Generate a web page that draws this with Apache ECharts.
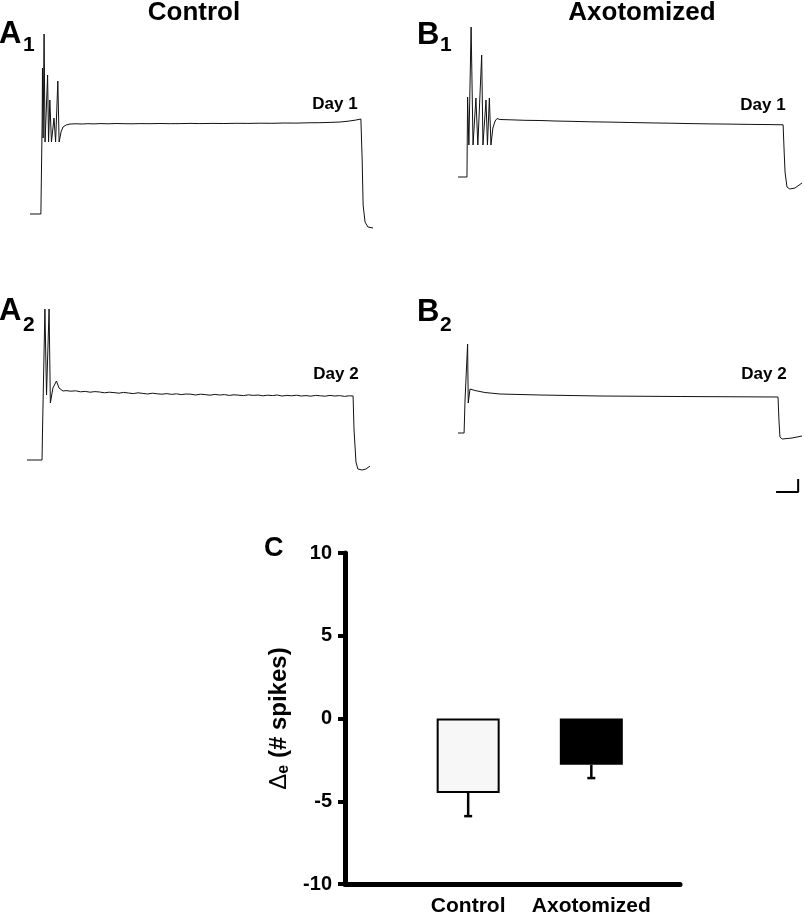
<!DOCTYPE html>
<html>
<head>
<meta charset="utf-8">
<script src="https://cdn.jsdelivr.net/npm/echarts@6/dist/echarts.min.js"></script>
<style>html,body{margin:0;padding:0;background:#fff}#c{width:805px;height:917px}</style>
</head>
<body>
<div id="c"></div>
<script>
// ---- Traces: [time (ms), membrane potential (mV)] ----
const traceA1 = [[0,-65],[34,-65],[38,-18],[39,8],[41,-27],[44,25],[47,-29],[55,4.5],[58,-29],[62,-8],[67,-29],[75,-17],[80,-29],[87,1.5],[91,-29],[97,-24],[103,-21.5],[113,-20.5],
 [125,-20.0],[144,-19.9],[163,-20.0],[181,-19.85],[200,-19.95],[219,-19.8],[244,-19.9],[269,-19.75],[294,-19.85],[319,-19.9],[344,-19.8],[375,-19.85],[406,-19.75],[438,-19.85],[469,-19.8],[500,-19.7],[531,-19.8],[569,-19.7],[606,-19.75],[644,-19.65],[681,-19.7],[719,-19.6],[756,-19.65],[794,-19.5],[831,-19.55],[869,-19.4],[906,-19.35],[938,-19.2],[969,-19.0],[994,-18.6],[1016,-18.1],[1034,-17.5],
 [1038,-38],[1041,-60.5],[1047,-69],[1056,-71.5],[1072,-72]];
const traceB1 = [[0,-65],[28,-65],[30,-25],[34,-49],[41,10],[47,-49],[56,-25.5],[62,-49],[74,-4],[78,-49],[87.5,-26.5],[92,-49],[98,-25.5],[103,-49],[109,-40.5],[116,-37],[122,-35.75],
 [131,-36.25],[163,-36.4],[209,-36.65],[256,-36.75],[303,-37.0],[350,-37.15],[413,-37.4],[475,-37.55],[538,-37.75],[600,-37.95],[663,-38.1],[725,-38.3],[788,-38.45],[850,-38.55],[913,-38.7],[975,-38.8],[1016,-38.9],
 [1019,-51.5],[1022,-62.5],[1028,-70],[1037,-71],[1053,-70.5],[1075,-68]];
const traceA2 = [[0,-65],[47,-65],[48.5,-50],[56,10.5],[61,-32.5],[69,10.5],[73,-36.5],[81,-29],[92,-25.5],[100,-29],[112.5,-30.5],
 [122,-30.3],[137,-30.6],[152,-30.4],[167,-30.9],[182,-30.7],[197,-31.1],[212,-30.8],[227,-31.0],[242,-31.4],[257,-31.1],[272,-31.3],[287,-31.6],[302,-31.2],[317,-31.5],[332,-31.8],[347,-31.4],[362,-31.7],[377,-32.0],[392,-31.6],[407,-31.9],[422,-32.1],[437,-31.8],[452,-32.2],[467,-31.9],[482,-32.3],[497,-32.0],[512,-32.1],[527,-32.5],[542,-32.1],[557,-32.3],[572,-32.6],[587,-32.2],[602,-32.5],[617,-32.3],[632,-32.7],[647,-32.4],[662,-32.6],[677,-32.8],[692,-32.4],[707,-32.7],[722,-32.5],[737,-32.9],[752,-32.6],[767,-32.8],[782,-32.5],[797,-33.0],[812,-32.7],[827,-32.9],[842,-32.6],[857,-33.0],[872,-32.8],[887,-33.1],[902,-32.7],[917,-32.9],[932,-33.1],[947,-32.7],[962,-33.0],[977,-32.8],[992,-33.2],[1007,-32.9],[1019,-33.0],
 [1022,-50],[1028,-66],[1034,-69.5],[1047,-70],[1059,-69.5],[1072,-68]];
const traceB2 = [[0,-65],[19,-65],[22,-48.5],[30,-20.5],[32,-50],[37.5,-43],[53,-43.75],[84,-44.75],[131,-45.5],[256,-46],[444,-46.5],[694,-46.75],[1000,-47],
 [1003,-58.5],[1006,-67],[1013,-68],[1044,-67.5],[1075,-66.5]];
const scaleBar = [[994,-94.5],[1063,-94.5],[1063,-88]];

// ---- Bar chart ----
const categories = ['Control', 'Axotomized'];
const catPos = [1, 2];
const means = [-4.5, -2.8];
const sems = [1.4, 0.8];
const barColors = ['#f7f7f7', '#000000'];
const yTicks = [-10, -5, 0, 5, 10];

const FONT = '"Liberation Sans", Arial, sans-serif';
const chart = echarts.init(document.getElementById('c'));

const traceGrids = [
  {left:30, top:24, width:345, height:280, ymin:-110, ymax:30},
  {left:458, top:17, width:345, height:280, ymin:-125, ymax:15},
  {left:27, top:300, width:345, height:280, ymin:-125, ymax:15},
  {left:458, top:273, width:345, height:280, ymin:-125, ymax:15}
];
const traces = [traceA1, traceB1, traceA2, traceB2];

const grid = traceGrids.map(g => ({left:g.left, top:g.top, width:g.width, height:g.height}));
grid.push({left:345, top:553, width:335, height:334});

const xAxis = traceGrids.map((g,i) => ({type:'value', gridIndex:i, min:0, max:g.width*3.125, show:false}));
const yAxis = traceGrids.map((g,i) => ({type:'value', gridIndex:i, min:g.ymin, max:g.ymax, show:false}));

xAxis.push({
  type:'value', gridIndex:4, min:0, max:2.72, interval:1,
  axisLine:{show:true, onZero:false, lineStyle:{color:'#000', width:5}},
  axisTick:{show:false}, splitLine:{show:false},
  axisLabel:{margin:12, color:'#000', fontFamily:FONT, fontWeight:'bold', fontSize:21,
    formatter: v => { const k = catPos.indexOf(Math.round(v)); return k >= 0 ? categories[k] : ''; }}
});
yAxis.push({
  type:'value', gridIndex:4, min:yTicks[0], max:yTicks[yTicks.length-1], interval:5,
  axisLine:{show:true, onZero:false, lineStyle:{color:'#000', width:5}},
  axisTick:{show:true, length:7, lineStyle:{color:'#000', width:4}},
  splitLine:{show:false},
  axisLabel:{margin:13, color:'#000', fontFamily:FONT, fontWeight:'bold', fontSize:20},
  name:'{d|\u0394}{e|e}{n| (# spikes)}', nameLocation:'middle', nameGap:53,
  nameTextStyle:{color:'#000', fontFamily:FONT, rich:{
    d:{fontSize:24, fontWeight:'normal', color:'#000', fontFamily:FONT},
    e:{fontSize:16, fontWeight:'bold', color:'#000', fontFamily:FONT, verticalAlign:'bottom', padding:[9,0,0,0]},
    n:{fontSize:24, fontWeight:'bold', color:'#000', fontFamily:FONT}
  }}
});

const series = traces.map((d,i) => ({
  type:'line', xAxisIndex:i, yAxisIndex:i, data:d, symbol:'none', showSymbol:false,
  lineStyle:{color:'#111', width:1}, clip:false, silent:true
}));
series.push({type:'line', xAxisIndex:3, yAxisIndex:3, data:scaleBar, symbol:'none',
  lineStyle:{color:'#000', width:2}, clip:false, silent:true});
series.push({
  type:'bar', xAxisIndex:4, yAxisIndex:4, barWidth:63,
  data: catPos.map((p,i) => ({value:[p, means[i]], itemStyle:{color:barColors[i], borderColor:'#000', borderWidth:2}}))
});
series.push({
  type:'custom', xAxisIndex:4, yAxisIndex:4, z:5,
  data: catPos.map((p,i) => [p, means[i], means[i]-sems[i]]),
  renderItem: (params, api) => {
    const top = api.coord([api.value(0), api.value(1)]);
    const bot = api.coord([api.value(0), api.value(2)]);
    const st = {stroke:'#000', lineWidth:2.5};
    return {type:'group', children:[
      {type:'line', shape:{x1:top[0], y1:top[1], x2:bot[0], y2:bot[1]}, style:st},
      {type:'line', shape:{x1:bot[0]-4, y1:bot[1], x2:bot[0]+4, y2:bot[1]}, style:st}
    ]};
  }
});

function txt(x, y, text, size, align) {
  return {type:'text', x:x, y:y, style:{text:text, fill:'#000', font:'bold ' + size + 'px ' + FONT,
    align:align || 'left', verticalAlign:'middle'}};
}
const graphic = [
  txt(194, 13, 'Control', 26, 'center'),
  txt(642, 13, 'Axotomized', 26, 'center'),
  txt(-1, 34, 'A', 31), txt(23, 45, '1', 21),
  txt(417, 35, 'B', 31), txt(440, 45, '1', 21),
  txt(-1, 311, 'A', 31), txt(23, 325, '2', 21),
  txt(417, 312, 'B', 31), txt(440, 325, '2', 21),
  txt(335, 104, 'Day 1', 17, 'center'),
  txt(763, 105, 'Day 1', 17, 'center'),
  txt(336, 374, 'Day 2', 17, 'center'),
  txt(764, 374, 'Day 2', 17, 'center'),
  txt(264, 549, 'C', 27)
];

chart.setOption({animation:false, backgroundColor:'#fff', grid, xAxis, yAxis, series, graphic});
</script>
</body>
</html>
